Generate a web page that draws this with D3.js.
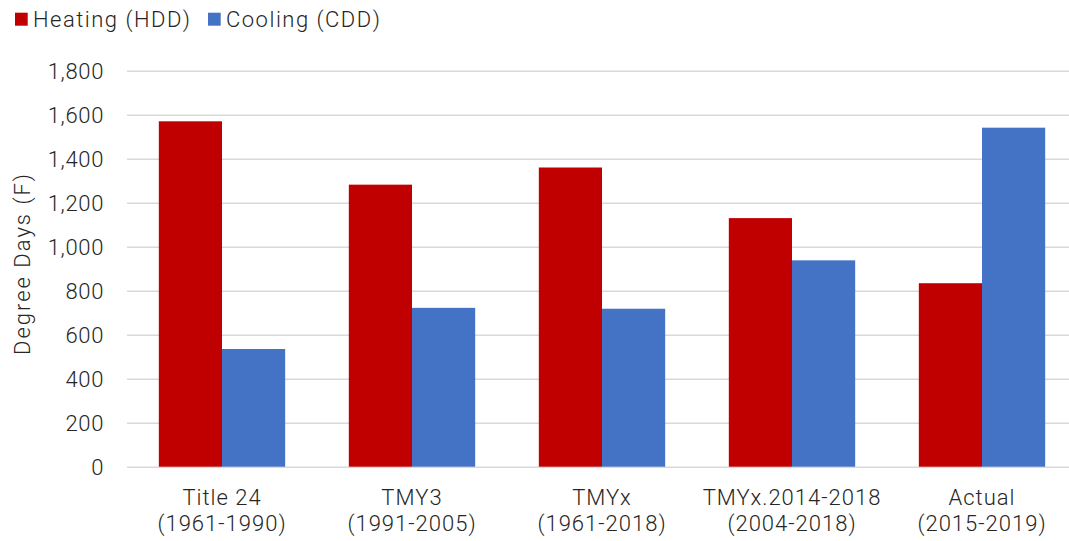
<!DOCTYPE html>
<html>
<head>
<meta charset="utf-8">
<script src="https://cdn.jsdelivr.net/npm/d3@7"></script>
<style>
  html, body { margin: 0; padding: 0; background: #fff; }
  svg { display: block; }
  text { font-family: "Helvetica Neue", Roboto, "Liberation Sans", sans-serif; font-weight: 300; fill: #262626; }
</style>
</head>
<body>
<svg id="chart" width="1069" height="541"></svg>
<script>
// Degree days by weather file source
const categories = [
  ["Title 24", "(1961-1990)"],
  ["TMY3", "(1991-2005)"],
  ["TMYx", "(1961-2018)"],
  ["TMYx.2014-2018", "(2004-2018)"],
  ["Actual", "(2015-2019)"]
];
const seriesNames = ["Heating (HDD)", "Cooling (CDD)"];
const heating = [1570, 1282, 1360, 1130, 834];
const cooling = [535, 722, 718, 938, 1541];
const yTicks = [0, 200, 400, 600, 800, 1000, 1200, 1400, 1600, 1800];
const colors = ["#C00000", "#4472C4"];

const width = 1069, height = 541;
const margin = { left: 127, right: -8, top: 70.7, bottom: 74.3 };
const svg = d3.select("#chart");

const keys = categories.map((c, i) => i);
const x0 = d3.scaleBand()
  .domain(keys)
  .range([margin.left, width - margin.right])
  .paddingInner(0.335)
  .paddingOuter(0.1675);
const x1 = d3.scaleBand()
  .domain([0, 1])
  .range([0, x0.bandwidth()]);
const y = d3.scaleLinear()
  .domain([0, 1800])
  .range([height - margin.bottom, margin.top]);

// horizontal gridlines
const grid = svg.append("g")
  .attr("transform", `translate(${margin.left},0)`)
  .call(d3.axisLeft(y).tickValues(yTicks).tickSize(-(width - margin.left - margin.right)).tickFormat(""));
grid.select(".domain").remove();
grid.selectAll("line").attr("stroke", "#D9D9D9").attr("stroke-width", 1.5);

// y tick labels
const yAxis = svg.append("g")
  .attr("transform", `translate(104,0)`)
  .call(d3.axisLeft(y).tickValues(yTicks).tickSize(0).tickPadding(0).tickFormat(d3.format(",")));
yAxis.select(".domain").remove();
yAxis.attr("font-family", null).attr("font-size", null);
yAxis.selectAll("text")
  .attr("font-size", 22)
  .attr("letter-spacing", 0.65)
  .attr("dy", "0.36em");

// bars
const data = keys.map(i => [heating[i], cooling[i]]);
const groups = svg.append("g").selectAll("g")
  .data(data)
  .join("g")
  .attr("transform", (d, i) => `translate(${x0(i)},0)`);
groups.selectAll("rect")
  .data(d => d.map((v, s) => ({ v, s })))
  .join("rect")
  .attr("x", d => x1(d.s))
  .attr("width", x1.bandwidth())
  .attr("y", d => y(d.v))
  .attr("height", d => y(0) - y(d.v))
  .attr("fill", d => colors[d.s]);

// category labels
const xAxis = svg.append("g");
categories.forEach((lines, i) => {
  const cx = x0(i) + x0.bandwidth() / 2;
  const t = xAxis.append("text")
    .attr("text-anchor", "middle")
    .attr("font-size", 22)
    .attr("letter-spacing", 1);
  lines.forEach((ln, j) => {
    t.append("tspan").attr("x", cx).attr("y", 504.5 + j * 26.8).text(ln);
  });
});

// y axis title
svg.append("text")
  .attr("transform", `translate(29.5,263.5) rotate(-90)`)
  .attr("text-anchor", "middle")
  .attr("font-size", 22)
  .attr("letter-spacing", 2)
  .text("Degree Days (F)");

// legend
const legendPos = [15, 208];
seriesNames.forEach((name, s) => {
  svg.append("rect")
    .attr("x", legendPos[s]).attr("y", 12.7)
    .attr("width", 12.7).attr("height", 13)
    .attr("fill", colors[s]);
  svg.append("text")
    .attr("x", legendPos[s] + 18).attr("y", 26.7)
    .attr("font-size", 22)
    .attr("letter-spacing", 1.5)
    .text(name);
});
</script>
</body>
</html>
